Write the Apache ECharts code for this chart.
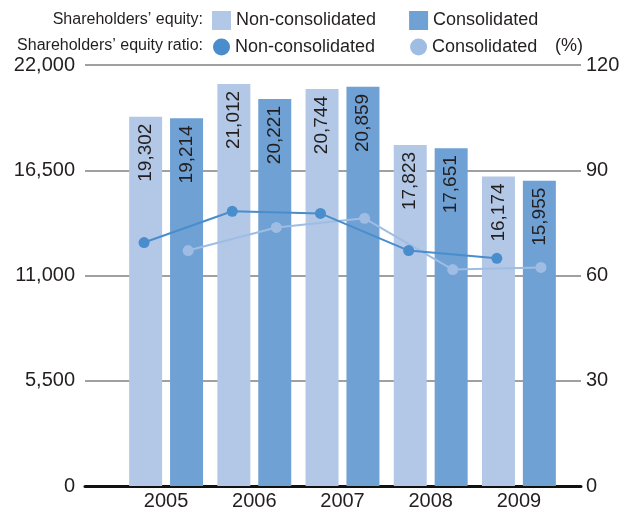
<!DOCTYPE html>
<html>
<head>
<meta charset="utf-8">
<script src="https://cdn.jsdelivr.net/npm/echarts@6/dist/echarts.min.js"></script>
<style>
  html, body { margin: 0; padding: 0; background: #fff; }
  #chart { width: 631px; height: 514px; }
</style>
</head>
<body>
<div id="chart"></div>
<script>
  // data
  var years = ['2005', '2006', '2007', '2008', '2009'];
  var equityNonCons = [19302, 21012, 20744, 17823, 16174];
  var equityCons = [19214, 20221, 20859, 17651, 15955];
  var ratioNonCons = [69.4, 78.3, 77.7, 67.1, 64.9];
  var ratioCons = [67.1, 73.7, 76.3, 61.7, 62.3];
  var equityTicks = [0, 5500, 11000, 16500, 22000];
  var ratioTicks = [0, 30, 60, 90, 120];

  var FONT = 'Liberation Sans, Arial, sans-serif';
  var TXT = '#231f20';
  var LIGHT = '#b3c8e6';
  var DARK = '#6fa1d4';
  var PT_DARK = '#4a8dcc';
  var PT_LIGHT = '#9fbde3';

  // each year gets two half slots so the ratio points sit over their own bar
  var halfSlots = [];
  years.forEach(function (y) { halfSlots.push(y + 'a', y + 'b'); });
  var ratioNonSlots = [];
  var ratioConSlots = [];
  years.forEach(function (y, i) {
      ratioNonSlots.push(ratioNonCons[i], null);
      ratioConSlots.push(null, ratioCons[i]);
  });

  var names = {
      eqNon: 'Non-consolidated', eqCon: 'Consolidated',
      raNon: 'Non-consolidated', raCon: 'Consolidated'
  };

  var myChart = echarts.init(document.getElementById('chart'));

  var barLabel = {
      show: true,
      position: 'insideTop',
      rotate: 90,
      align: 'right',
      verticalAlign: 'middle',
      distance: 7,
      color: TXT,
      fontSize: 19,
      fontFamily: FONT,
      formatter: function (p) { return p.value.toLocaleString('en-US'); }
  };

  myChart.setOption({
      animation: false,
      textStyle: { fontFamily: FONT },
      legend: [
          {
              data: ['eqNon', 'eqCon'],
              left: 212, top: 11, padding: 0,
              icon: 'rect', itemWidth: 19, itemHeight: 19, itemGap: 33,
              formatter: function (n) { return names[n]; },
              textStyle: { fontSize: 18, color: TXT, fontFamily: FONT },
              selectedMode: false
          },
          {
              data: ['raNon', 'raCon'],
              left: 213, top: 38, padding: 0,
              icon: 'circle', itemWidth: 17, itemHeight: 17, itemGap: 35,
              formatter: function (n) { return names[n]; },
              textStyle: { fontSize: 18, color: TXT, fontFamily: FONT },
              selectedMode: false
          }
      ],
      graphic: [
          { type: 'text', right: 631 - 203, top: 12,
            style: { text: 'Shareholders\u2019 equity:', fontSize: 16, fill: TXT, fontFamily: FONT, textAlign: 'right' } },
          { type: 'text', right: 631 - 203, top: 38,
            style: { text: 'Shareholders\u2019 equity ratio:', fontSize: 16, fill: TXT, fontFamily: FONT, textAlign: 'right' } }
      ],
      grid: [
          { left: 85, right: 50, top: 65, bottom: 28 },
          { left: 122, right: 68, top: 65, bottom: 28 }
      ],
      xAxis: [
          {
              gridIndex: 0, type: 'value', min: 0, max: 1,
              axisLine: { show: true, onZero: false, lineStyle: { color: '#111', width: 3 } },
              axisTick: { show: false }, axisLabel: { show: false }, splitLine: { show: false }
          },
          {
              gridIndex: 1, type: 'category', data: years,
              axisLine: { show: false }, axisTick: { show: false },
              axisLabel: { color: TXT, fontSize: 20, fontFamily: FONT, margin: 5 }
          },
          {
              gridIndex: 1, type: 'category', data: halfSlots, show: false
          }
      ],
      yAxis: [
          {
              gridIndex: 0, type: 'value', min: equityTicks[0], max: equityTicks[equityTicks.length - 1],
              interval: equityTicks[1] - equityTicks[0],
              axisLine: { show: false }, axisTick: { show: false },
              axisLabel: { color: TXT, fontSize: 20, fontFamily: FONT, margin: 10,
                           formatter: function (v) { return v.toLocaleString('en-US'); } },
              splitLine: { lineStyle: { color: '#808080', width: 1.5 } }
          },
          {
              gridIndex: 0, type: 'value', position: 'right',
              min: ratioTicks[0], max: ratioTicks[ratioTicks.length - 1],
              interval: ratioTicks[1] - ratioTicks[0],
              name: '(%)', nameLocation: 'end', nameGap: 8,
              nameTextStyle: { color: TXT, fontSize: 18, fontFamily: FONT, align: 'right', padding: [0, -2, 0, 0] },
              axisLine: { show: false }, axisTick: { show: false },
              axisLabel: { color: TXT, fontSize: 20, fontFamily: FONT, margin: 5 },
              splitLine: { show: false }
          },
          {
              gridIndex: 1, type: 'value', min: 0, max: 22000, show: false
          },
          {
              gridIndex: 1, type: 'value', min: 0, max: 120, show: false
          }
      ],
      series: [
          {
              name: 'eqNon', type: 'bar', xAxisIndex: 1, yAxisIndex: 2,
              data: equityNonCons, barWidth: 33, barGap: '24%',
              itemStyle: { color: LIGHT }, label: barLabel
          },
          {
              name: 'eqCon', type: 'bar', xAxisIndex: 1, yAxisIndex: 2,
              data: equityCons, barWidth: 33, barGap: '24%',
              itemStyle: { color: DARK }, label: barLabel
          },
          {
              name: 'raNon', type: 'line', xAxisIndex: 2, yAxisIndex: 3,
              data: ratioNonSlots, connectNulls: true, z: 5,
              symbol: 'circle', symbolSize: 11,
              itemStyle: { color: PT_DARK }, lineStyle: { color: PT_DARK, width: 2 }
          },
          {
              name: 'raCon', type: 'line', xAxisIndex: 2, yAxisIndex: 3,
              data: ratioConSlots, connectNulls: true, z: 4,
              symbol: 'circle', symbolSize: 11,
              itemStyle: { color: PT_LIGHT }, lineStyle: { color: PT_LIGHT, width: 2 }
          }
      ]
  });

  window.addEventListener('resize', function () {
      myChart.resize();
  });
</script>
</body>
</html>
